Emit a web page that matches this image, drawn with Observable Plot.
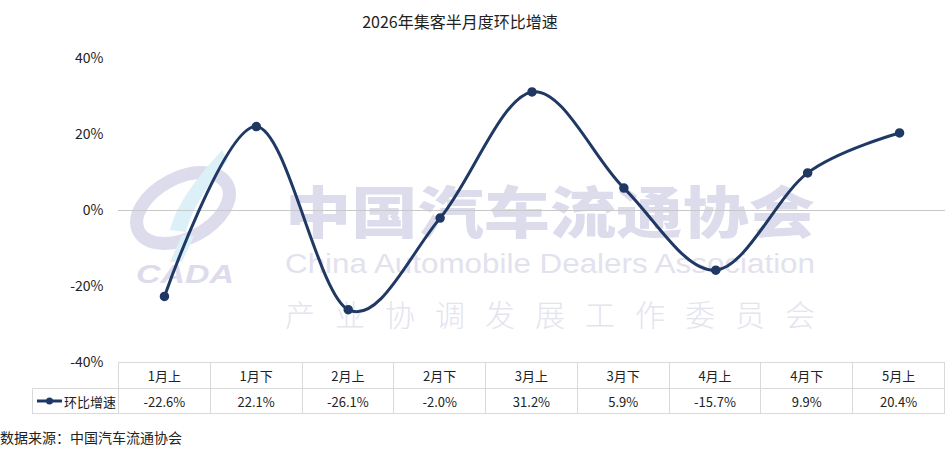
<!DOCTYPE html>
<html>
<head>
<meta charset="utf-8">
<script src="https://cdn.jsdelivr.net/npm/d3@7"></script>
<script src="https://cdn.jsdelivr.net/npm/@observablehq/plot@0.6"></script>
<style>
  html, body { margin: 0; padding: 0; background: #fff; }
  #wrap { position: relative; width: 945px; height: 450px; font-family: "Noto Sans CJK SC", "Noto Sans", sans-serif; color: #222; overflow: hidden; }
  #wm { position: absolute; left: 0; top: 0; }
  #chart { position: absolute; left: 0; top: 0; }
  #title { position: absolute; left: 0; width: 920px; top: 9px; text-align: center; font-size: 16px; color: #222; }
  #tbl { position: absolute; left: 32px; top: 362px; border-collapse: collapse; font-size: 13px; color: #222; table-layout: fixed; }
  #tbl td { border: 1px solid #d9d9d9; text-align: center; padding: 0; box-sizing: border-box; white-space: nowrap; overflow: hidden; background: #fff; }
  #tbl tr.h td { height: 26px; }
  #tbl tr.v td { height: 25px; }
  #tbl td.blank { border: none; background: transparent; }
  #source { position: absolute; left: 0; top: 427px; font-size: 14px; color: #222; }
</style>
</head>
<body>
<div id="wrap">
  <svg id="wm" width="945" height="450">
    <g>
      <ellipse cx="183" cy="208" rx="50" ry="30" transform="rotate(-28 183 208)" fill="none" stroke="#dcdcec" stroke-width="13"/>
      <path d="M222 150 C200 175 178 200 170 230 L186 232 C192 208 210 182 228 160 Z" fill="#dcf0f8"/>
      <path d="M182 235 L170 262 L182 262 L194 236 Z" fill="#dcf0f8"/>
      <text x="136" y="283" font-family="Liberation Sans, sans-serif" font-weight="bold" font-style="italic" font-size="26" fill="#dcdcec" textLength="98" lengthAdjust="spacingAndGlyphs">CADA</text>
      <text x="285" y="233" font-family="Noto Sans CJK SC" font-weight="900" font-size="56" fill="#dcdcec" textLength="530" lengthAdjust="spacingAndGlyphs">中国汽车流通协会</text>
      <text x="285" y="273" font-family="Liberation Sans, sans-serif" font-size="27" fill="#e2e2ee" textLength="530" lengthAdjust="spacingAndGlyphs">China Automobile Dealers Association</text>
      <text x="285" y="326" font-family="Noto Sans CJK SC" font-weight="300" font-size="30" fill="#e4e4ef" textLength="530" lengthAdjust="spacing">产业协调发展工作委员会</text>
    </g>
  </svg>
  <div id="chart"></div>
  <div id="title"></div>
  <table id="tbl"></table>
  <div id="source"></div>
</div>
<script>
const titleText = "2026年集客半月度环比增速";
const sourceText = "数据来源：中国汽车流通协会";
const seriesName = "环比增速";
const categories = ["1月上", "1月下", "2月上", "2月下", "3月上", "3月下", "4月上", "4月下", "5月上"];
const values = [-22.6, 22.1, -26.1, -2.0, 31.2, 5.9, -15.7, 9.9, 20.4];
const yTicks = [-40, -20, 0, 20, 40];
const lineColor = "#1F3864";

const data = categories.map((c, i) => ({cat: c, v: values[i]}));

document.getElementById("title").textContent = titleText;
document.getElementById("source").textContent = sourceText;

const chart = Plot.plot({
  width: 945,
  height: 380,
  marginTop: 58,
  marginBottom: 18,
  marginLeft: 118,
  marginRight: 0,
  style: {background: "transparent", fontFamily: "'Noto Sans CJK SC', sans-serif", fontSize: "14px", color: "#222"},
  x: {type: "point", domain: categories, padding: 0.5, round: false, axis: null},
  y: {domain: [-40, 40], ticks: yTicks, tickFormat: d => d + "%", tickSize: 0, tickPadding: 15, label: null},
  marks: [
    Plot.ruleY([0], {stroke: "#c8c8c8", strokeWidth: 1}),
    Plot.line(data, {x: "cat", y: "v", curve: "cardinal", stroke: lineColor, strokeWidth: 3}),
    Plot.dot(data, {x: "cat", y: "v", r: 4, fill: lineColor, stroke: lineColor})
  ]
});
document.getElementById("chart").appendChild(chart);

// data table
const tbl = document.getElementById("tbl");
const hr = document.createElement("tr"); hr.className = "h";
const blank = document.createElement("td"); blank.className = "blank"; blank.style.width = "86px"; hr.appendChild(blank);
categories.forEach(c => { const td = document.createElement("td"); td.style.width = "92px"; td.textContent = c; hr.appendChild(td); });
tbl.appendChild(hr);
const vr = document.createElement("tr"); vr.className = "v";
const lg = document.createElement("td");
lg.style.textAlign = "left";
lg.innerHTML = `<span style="display:inline-flex;align-items:center;margin-left:3px"><svg width="27" height="10" style="margin-right:1px"><line x1="1" y1="5" x2="26" y2="5" stroke="${lineColor}" stroke-width="3"/><circle cx="13.5" cy="5" r="3.5" fill="${lineColor}"/></svg><span>${seriesName}</span></span>`;
vr.appendChild(lg);
values.forEach(v => { const td = document.createElement("td"); td.textContent = v.toFixed(1) + "%"; vr.appendChild(td); });
tbl.appendChild(vr);
</script>
</body>
</html>
